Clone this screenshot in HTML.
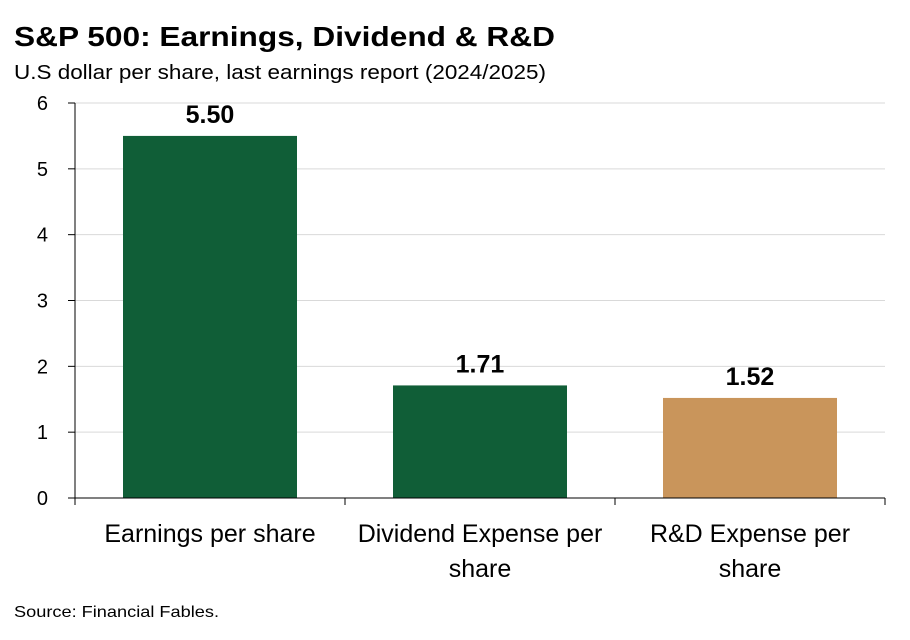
<!DOCTYPE html>
<html><head><meta charset="utf-8"><style>
body{margin:0;background:#fff;font-family:"Liberation Sans",sans-serif;}
#c{position:relative;width:910px;height:640px;overflow:hidden;}
svg text{font-family:"Liberation Sans",sans-serif;}
</style></head><body>
<div id="c">
<svg id="s" width="910" height="640">
<text x="14" y="46" font-size="28" font-weight="bold" fill="#000" textLength="541" lengthAdjust="spacingAndGlyphs">S&amp;P 500: Earnings, Dividend &amp; R&amp;D</text>
<text x="14" y="79" font-size="20" fill="#000" textLength="532" lengthAdjust="spacingAndGlyphs">U.S dollar per share, last earnings report (2024/2025)</text>
<text x="14" y="617" font-size="16" fill="#000" textLength="205" lengthAdjust="spacingAndGlyphs">Source: Financial Fables.</text>
</svg>
</div>
<script>
const categories=[["Earnings per share"],["Dividend Expense per","share"],["R&D Expense per","share"]];
const values=[5.50,1.71,1.52];
const labels=["5.50","1.71","1.52"];
const colors=["#105e37","#105e37","#c9955b"];
const ticks=[0,1,2,3,4,5,6];
const s=document.getElementById('s');
const NS="http://www.w3.org/2000/svg";
const x0=75,x1=885,yTop=103,yBot=498,vmax=6;
const y=v=>yBot-(v/vmax)*(yBot-yTop);
const band=(x1-x0)/categories.length;
function mk(t,a){const e=document.createElementNS(NS,t);for(const k in a)e.setAttribute(k,a[k]);s.appendChild(e);return e;}
ticks.forEach(t=>{
  if(t>0){const g=mk('line',{x1:x0,x2:x1,y1:y(t),y2:y(t),stroke:'#d9d9d9','stroke-width':1});
  
  }
  const tk=mk('line',{x1:x0-7,x2:x0,y1:y(t),y2:y(t),stroke:'#000','stroke-width':1});
  
  
  const l=mk('text',{x:x0-27,y:y(t)+7,'font-size':20,'text-anchor':'end',fill:'#000'});
  l.textContent=t;
  
  
});
values.forEach((v,i)=>{
  const cx=x0+band*(i+0.5),w=174;
  const r=mk('rect',{x:cx-w/2,y:y(v),width:w,height:yBot-y(v),fill:colors[i]});
  
  
  const t=mk('text',{x:cx,y:y(v)-13,'font-size':25,'font-weight':'bold','text-anchor':'middle',fill:'#000'});
  t.textContent=labels[i];
  
  
  categories[i].forEach((ln,j)=>{
    const c=mk('text',{x:cx,y:542+j*35,'font-size':25,'text-anchor':'middle',fill:'#000'});
    c.textContent=ln;
    
    
  });
});
for(let i=0;i<=categories.length;i++){
  const tk=mk('line',{x1:x0+band*i,x2:x0+band*i,y1:yBot,y2:yBot+7,stroke:'#000','stroke-width':1});
  
  
}
const ya=mk('line',{x1:x0,x2:x0,y1:yTop,y2:yBot,stroke:'#000','stroke-width':1});


const xa=mk('line',{x1:x0,x2:x1,y1:yBot,y2:yBot,stroke:'#000','stroke-width':1});


</script>
</body></html>
